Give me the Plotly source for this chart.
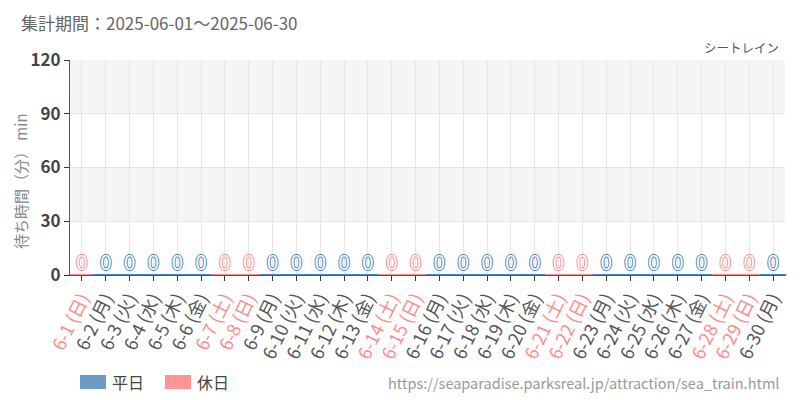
import plotly.graph_objects as go

# June 2025, seat train wait times (all zero)
days = list(range(1, 31))
weekdays = ["日", "月", "火", "水", "木", "金", "土"] * 5
weekdays = weekdays[:30]
wait_min = [0] * 30
holiday = [wd in ("日", "土") for wd in weekdays]

BLUE = "#4a86bf"
PINK = "#ff8a8a"
BLUE_LEG = "#6a9bc3"
PINK_LEG = "#ff9494"

cats = [f"6-{d}" for d in days]
ticktext = [
    f'<span style="color:{PINK if h else "#555"}">6-{d} ({wd})</span>'
    for d, wd, h in zip(days, weekdays, holiday)
]
cols = [PINK if h else BLUE for h in holiday]


def outline(c):
    return f"1px 0 0 {c}, -1px 0 0 {c}, 0 1px 0 {c}, 0 -1px 0 {c}"


fig = go.Figure()

# zero-height bars as flat marks on the baseline
fig.add_trace(go.Scatter(
    x=cats, y=wait_min, mode="markers",
    marker=dict(symbol="line-ew", size=19, color=cols, line=dict(color=cols, width=2)),
    cliponaxis=False, showlegend=False, hoverinfo="skip",
))

# value labels, outlined by colour
for is_h in (False, True):
    xs = [c for c, h in zip(cats, holiday) if h == is_h]
    ys = [v for v, h in zip(wait_min, holiday) if h == is_h]
    c = PINK if is_h else BLUE
    fig.add_trace(go.Scatter(
        x=xs, y=ys, mode="text", text=[str(v) for v in ys],
        textposition="top center",
        textfont=dict(family="Noto Sans CJK JP", size=21,
                      color="white", shadow=outline(c)),
        cliponaxis=False, showlegend=False, hoverinfo="skip",
    ))

# alternating bands
for lo, hi in [(30, 60), (90, 120)]:
    fig.add_shape(type="rect", xref="paper", yref="y", x0=0, x1=1, y0=lo, y1=hi,
                  fillcolor="#f5f5f5", line_width=0, layer="below")

# legend (positions in screen pixels, plot area 70..785 x 60..275)
px = lambda p: (p - 70) / 715
py = lambda p: (275 - p) / 215
for x0, col, lab in [(80, BLUE_LEG, "平日"), (165, PINK_LEG, "休日")]:
    fig.add_shape(type="rect", xref="paper", yref="paper",
                  x0=px(x0), x1=px(x0 + 26), y0=py(389), y1=py(375),
                  fillcolor=col, line_width=0)
    fig.add_annotation(xref="paper", yref="paper", x=px(x0 + 30), y=py(382),
                       text=lab, showarrow=False, xanchor="left", yanchor="middle",
                       font=dict(size=16, color="#444"))

fig.add_annotation(xref="paper", yref="paper", x=px(781), y=py(382),
                   text="https://seaparadise.parksreal.jp/attraction/sea_train.html",
                   showarrow=False, xanchor="right", yanchor="middle",
                   font=dict(size=14.5, color="#999"))
fig.add_annotation(xref="paper", yref="paper", x=px(19), y=py(22),
                   text="集計期間：2025-06-01～2025-06-30",
                   showarrow=False, xanchor="left", yanchor="middle",
                   font=dict(size=17, color="#666"))
fig.add_annotation(xref="paper", yref="paper", x=px(781), y=py(47),
                   text="シートレイン",
                   showarrow=False, xanchor="right", yanchor="middle",
                   font=dict(size=12.5, color="#555"))
# y axis title
fig.add_annotation(xref="paper", yref="paper", x=px(20), y=py(181),
                   text="待ち時間（分） min", textangle=-90,
                   showarrow=False, xanchor="center", yanchor="middle",
                   font=dict(size=15, color="#888"))

fig.update_layout(
    width=800, height=400,
    margin=dict(l=62, r=23, t=52, b=133),
    plot_bgcolor="white", paper_bgcolor="white",
    font=dict(family="Noto Sans CJK JP, Noto Sans", color="#444"),
    showlegend=False,
)
fig.update_xaxes(
    type="category", tickvals=cats, ticktext=ticktext, tickangle=-64,
    tickfont=dict(size=18), showgrid=True, gridcolor="#e6e6e6", automargin=False,
    showline=True, linecolor="#555", ticks="outside", ticklen=5, tickcolor="#333",
    range=[-0.5, 29.5],
)
fig.update_yaxes(
    range=[0, 120], tickvals=[0, 30, 60, 90, 120],
    tickfont=dict(size=17, color="#444", weight=600),
    showgrid=True, gridcolor="#e6e6e6", zeroline=False, automargin=False,
    showline=True, linecolor="#555", ticks="outside", ticklen=5, tickcolor="#333",
)

fig.write_html("out.html")
